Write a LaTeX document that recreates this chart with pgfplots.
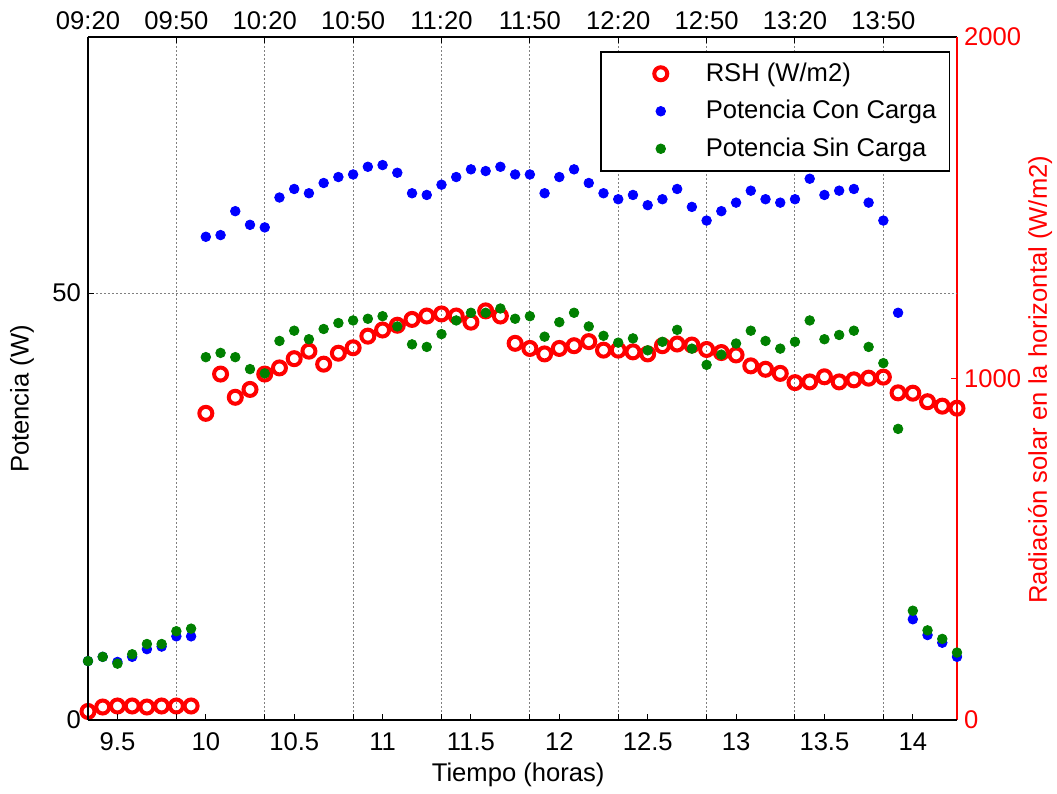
\documentclass[border=0pt]{standalone}
\usepackage{fontspec}
\setmainfont{Liberation Sans}
\usepackage{pgfplots}
\usepackage{pgfplotstable}
\pgfplotsset{compat=1.18}

% t: hora decimal; rsh: radiación (W/m2); pcc / psc: potencia con / sin carga (W)
\pgfplotstableread{
t        rsh   pcc    psc
9.33333  25    6.9    6.9
9.41667  38    7.4    7.4
9.5      41    6.8    6.6
9.58333  41    7.4    7.7
9.66667  38    8.3    8.9
9.75     41    8.6    8.9
9.83333  41    9.8    10.4
9.91667  41    9.8    10.7
10.0     898   56.6   42.5
10.08333 1013  56.8   43.0
10.16667 945   59.6   42.5
10.25    968   58.0   41.1
10.33333 1013  57.7   40.6
10.41667 1031  61.2   44.4
10.5     1058  62.2   45.6
10.58333 1080  61.7   44.6
10.66667 1042  62.9   45.8
10.75    1074  63.6   46.5
10.83333 1090  63.9   46.8
10.91667 1124  64.8   47.0
11.0     1142  65.0   47.3
11.08333 1156  64.1   46.1
11.16667 1173  61.7   44.0
11.25    1183  61.5   43.7
11.33333 1189  62.7   45.2
11.41667 1183  63.6   46.8
11.5     1165  64.5   47.7
11.58333 1198  64.3   47.7
11.66667 1183  64.8   48.2
11.75    1103  63.9   47.0
11.83333 1088  63.9   47.3
11.91667 1072  61.7   44.9
12.0     1088  63.6   46.6
12.08333 1096  64.5   47.7
12.16667 1108  62.9   46.1
12.25    1083  61.7   45.0
12.33333 1083  61.0   44.2
12.41667 1078  61.5   44.7
12.5     1072  60.3   43.3
12.58333 1096  61.0   44.3
12.66667 1101  62.2   45.7
12.75    1098  60.1   43.5
12.83333 1085  58.5   41.6
12.91667 1076  59.6   42.8
13.0     1069  60.6   44.1
13.08333 1037  62.0   45.6
13.16667 1027  61.0   44.4
13.25    1015  60.6   43.5
13.33333 988   61.0   44.3
13.41667 990   63.4   46.8
13.5     1005  61.5   44.6
13.58333 990   62.0   45.1
13.66667 996   62.2   45.6
13.75    1001  60.6   43.7
13.83333 1004  58.5   41.8
13.91667 958   47.7   34.1
14.0     957   11.8   12.8
14.08333 932   9.95   10.5
14.16667 919   9.05   9.5
14.25    913   7.4    7.9
}\datos

\pgfplotsset{
  base/.style={
    scale only axis, width=434.5pt, height=341.5pt,
    xmin=9.33333, xmax=14.25,
    clip=false,
    font=\fontsize{12.8}{15}\selectfont,
    /pgf/number format/assume math mode=true,
    /pgf/number format/1000 sep={},
    tick align=inside, major tick length=3pt,
    tick style={black, line width=0.5pt},
    axis line style={line width=0.8pt},
    grid style={gray, line width=0.5pt, dash pattern=on 1pt off 1pt},
  },
  rshstyle/.style={only marks, mark=o, mark size=3.25pt, red, line width=2pt},
  pccstyle/.style={only marks, mark=*, mark size=2.4pt, blue, line width=0.4pt},
  pscstyle/.style={only marks, mark=*, mark size=2.4pt, black!50!green, line width=0.4pt},
}

\begin{document}
\begin{tikzpicture}
\useasboundingbox (-44pt,-37pt) rectangle (484.5pt,360pt);

% eje derecho (radiación) y horas de reloj arriba
\begin{axis}[base,
  axis x line*=top, axis y line*=right,
  x axis line style={black},
  y axis line style={red},
  ymin=0, ymax=2000, ytick={0,1000,2000},
  ytick style={red},
  yticklabel style={red},
  xtick={9.33333,9.83333,10.33333,10.83333,11.33333,11.83333,12.33333,12.83333,13.33333,13.83333},
  xticklabels={09:20,09:50,10:20,10:50,11:20,11:50,12:20,12:50,13:20,13:50},
  xmajorgrids=true,
  ylabel={Radiación solar en la horizontal (W/m2)},
  ylabel style={red, at={(axis description cs:1.0955,0.498)}, anchor=center},
]
\addplot[rshstyle] table[x=t, y=rsh] {\datos};
\end{axis}

% eje izquierdo (potencia) y tiempo en horas abajo
\begin{axis}[base,
  axis x line*=bottom, axis y line*=left,
  ymin=0, ymax=80, ytick={0,50},
  xtick={9.5,10,...,14},
  extra x ticks={9.83333,10.33333,10.83333,11.33333,11.83333,12.33333,12.83333,13.33333,13.83333},
  extra x tick labels={},
  extra x tick style={grid=none},
  ymajorgrids=true,
  xlabel={Tiempo (horas)},
  ylabel={Potencia (W)},
  xlabel style={at={(axis description cs:0.495,-0.0805)}, anchor=center},
  ylabel style={at={(axis description cs:-0.076,0.47)}, anchor=center},
  xticklabel style={yshift=-3pt},
  legend cell align=left,
  legend style={
    at={(0.992,0.9795)}, anchor=north east,
    draw=black, line width=0.75pt, fill=white,
    inner xsep=4.5pt, inner ysep=2.75pt, row sep=2.25pt,
    nodes={inner sep=2pt, text height=10pt, text depth=2.5pt},
    font=\fontsize{12.8}{15}\selectfont,
  },
  legend image code/.code={
    \path[draw=none, fill=none] (0pt,-3pt) rectangle (46pt,3pt);
    \draw[#1] plot coordinates {(25.5pt,0pt)};
  },
]
\addlegendimage{rshstyle}
\addlegendentry{RSH (W/m2)}
\addplot[pccstyle] table[x=t, y=pcc] {\datos};
\addlegendentry{Potencia Con Carga}
\addplot[pscstyle] table[x=t, y=psc] {\datos};
\addlegendentry{Potencia Sin Carga}
\end{axis}
\end{tikzpicture}
\end{document}
